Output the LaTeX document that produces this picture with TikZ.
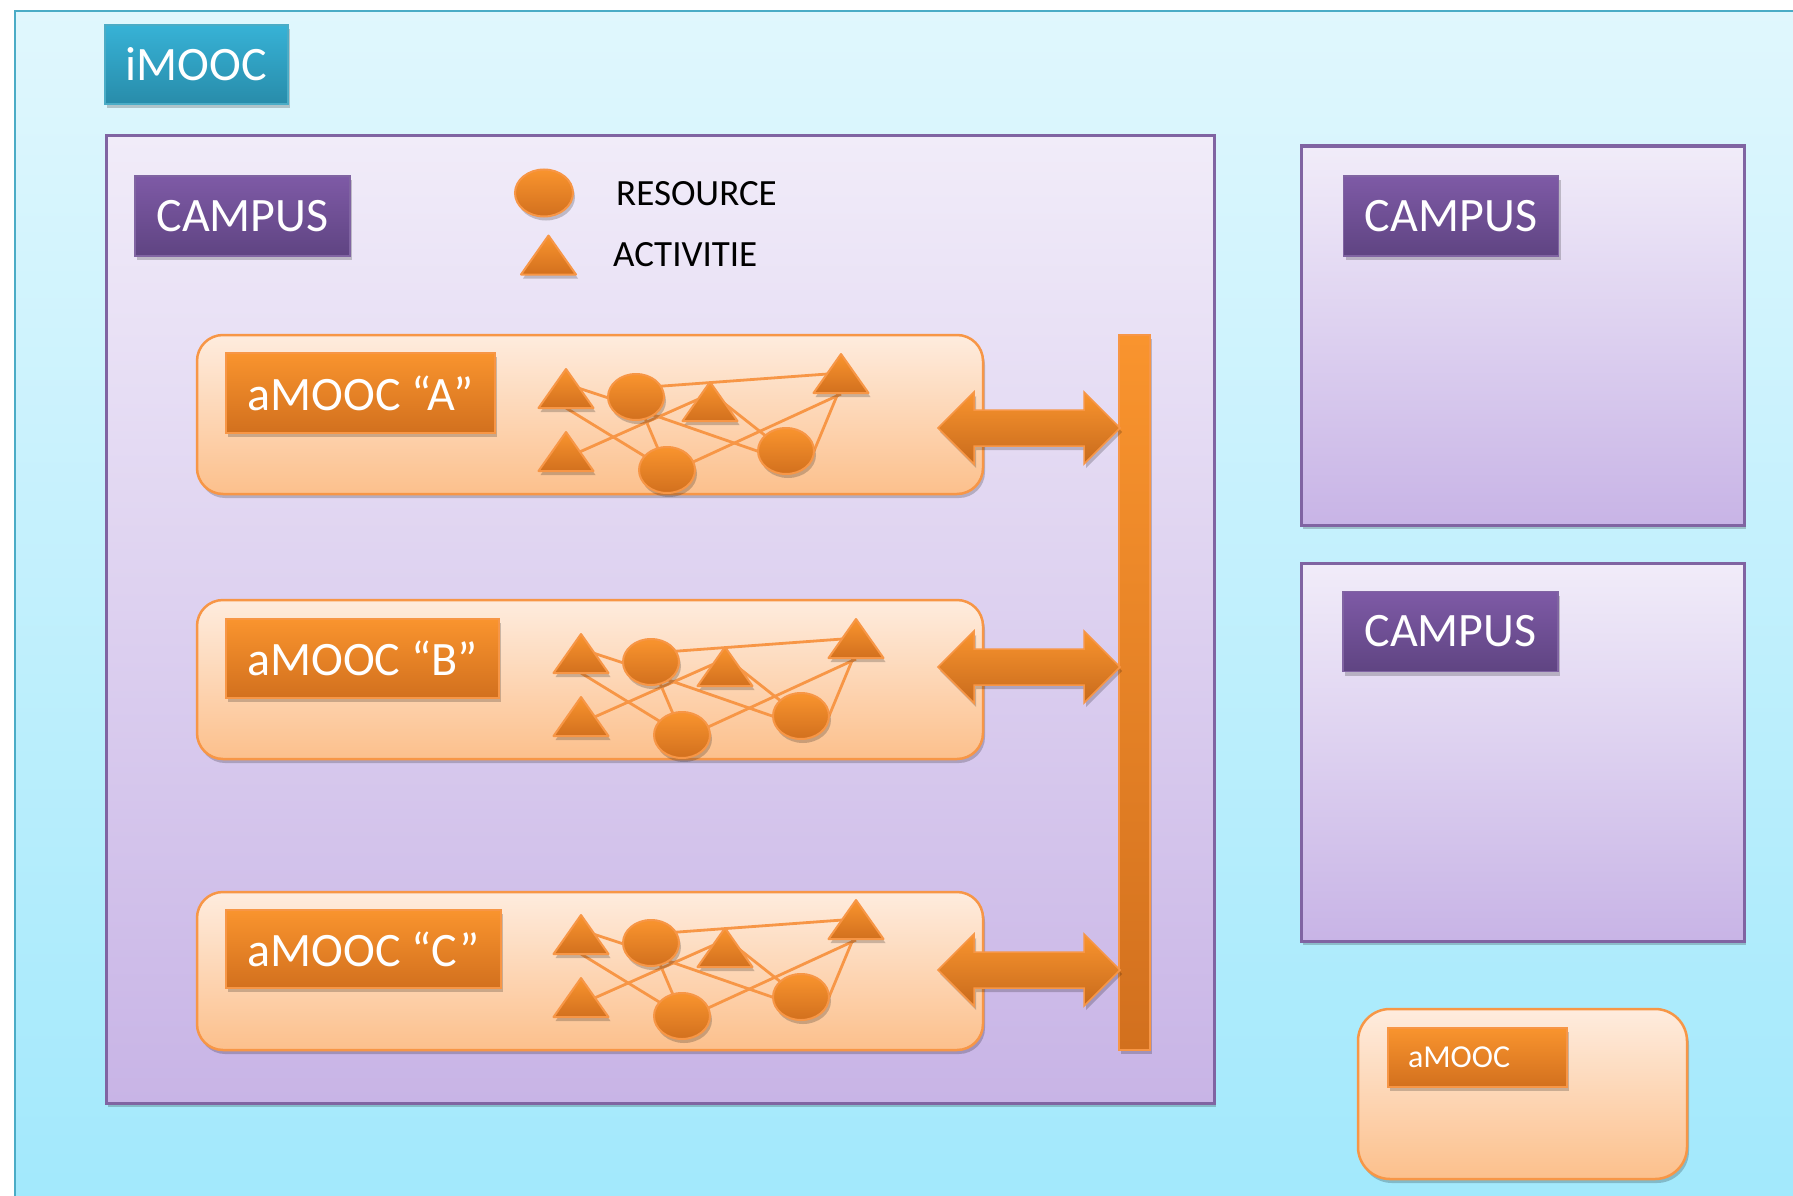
\documentclass[tikz,border=0pt]{standalone}
\usepackage{fontspec}
\setmainfont{Carlito}
\usetikzlibrary{shadows,shapes.geometric}
\definecolor{outtop}{RGB}{224,247,253}
\definecolor{outbot}{RGB}{160,232,252}
\definecolor{tealb}{RGB}{75,172,198}
\definecolor{itop}{RGB}{55,178,214}
\definecolor{ibot}{RGB}{40,140,170}
\definecolor{pborder}{RGB}{128,100,162}
\definecolor{ptop}{RGB}{241,236,249}
\definecolor{pbot}{RGB}{200,180,230}
\definecolor{pltop}{RGB}{126,90,166}
\definecolor{plbot}{RGB}{95,68,130}
\definecolor{oborder}{RGB}{247,150,70}
\definecolor{otop}{RGB}{254,236,222}
\definecolor{obot}{RGB}{252,192,140}
\definecolor{oltop}{RGB}{249,148,46}
\definecolor{olbot}{RGB}{210,112,30}
\newcommand\fbig{\fontsize{48pt}{56pt}\selectfont}
\newcommand\fmid{\fontsize{48pt}{56pt}\selectfont}
\newcommand\fleg{\fontsize{37pt}{44pt}\selectfont}
\newcommand\fsmall{\fontsize{32pt}{38pt}\selectfont}
\tikzset{
  shd/.style={drop shadow={shadow xshift=2pt,shadow yshift=-4pt,opacity=0.2,fill=black}},
  outerbox/.style={draw=tealb,line width=2.5pt,top color=outtop,bottom color=outbot},
  imooclbl/.style={rectangle,draw=tealb,line width=1.5pt,top color=itop,bottom color=ibot,
    text=white,font=\fbig,inner sep=0pt,shd},
  campusbox/.style={rectangle,draw=pborder,line width=3pt,top color=ptop,bottom color=pbot,
    inner sep=0pt,shd},
  campuslbl/.style={rectangle,draw=pborder,line width=1.5pt,top color=pltop,bottom color=plbot,
    text=white,font=\fbig,inner sep=0pt,minimum width=215pt,minimum height=80pt,shd},
  amoocbox/.style={rectangle,rounded corners=26pt,draw=oborder,line width=2.5pt,
    top color=otop,bottom color=obot,inner sep=0pt,shd},
  amooclbl/.style={rectangle,draw=oborder,line width=1.5pt,top color=oltop,bottom color=olbot,
    text=white,font=\fmid,inner sep=0pt,shd},
  barbox/.style={rectangle,draw=oborder,line width=1.5pt,top color=oltop,bottom color=olbot,
    inner sep=0pt,shd},
  barrow/.style={draw=oborder,line width=1.5pt,top color=oltop,bottom color=olbot!95!black,
    line join=miter,shd},
  edge/.style={draw=oborder,line width=2.8pt},
  res/.style={ellipse,draw=oborder,line width=2pt,top color=oltop,bottom color=olbot,
    minimum width=56pt,minimum height=46pt,inner sep=0pt,shd},
  shapefill/.style={draw=oborder,line width=2pt,top color=oltop,bottom color=olbot,
    line join=round,shd},
  tri/.pic={\path[shapefill] (0,-26) -- (27.5,13) -- (-27.5,13) -- cycle;},
  legtext/.style={anchor=west,inner sep=0pt,font=\fleg,text=black}
}
\newcommand\mnet[3]{%
\begin{scope}[shift={(#2,#3)}]
  \coordinate (#1t1) at (566,395);
  \coordinate (#1t2) at (566,458);
  \coordinate (#1t3) at (710,408);
  \coordinate (#1t4) at (841,380);
  \coordinate (#1e1) at (636,397);
  \coordinate (#1e2) at (667,470);
  \coordinate (#1e3) at (786,451);
  \draw[edge] (566,384) -- (636,407);
  \draw[edge] (566,408) -- (#1e2);
  \draw[edge] (636,388) -- (841,373);
  \draw[edge] (#1e1) -- (#1e2);
  \draw[edge] (636,409) -- (786,461);
  \draw[edge] (#1t2) -- (710,394);
  \draw[edge] (710,392) -- (786,452);
  \draw[edge] (667,474) -- (841,394);
  \draw[edge] (814,451) -- (841,386);
  \pic at (#1t1) {tri};
  \pic at (#1t2) {tri};
  \pic at (#1t3) {tri};
  \pic at (#1t4) {tri};
  \node[res] (#1r1) at (#1e1) {};
  \node[res] (#1r2) at (#1e2) {};
  \node[res] (#1r3) at (#1e3) {};
\end{scope}}
\newcommand\dblarrow[1]{%
  \path[barrow] (938,#1) -- ++(36,-36) -- ++(0,18) -- ++(110,0) -- ++(0,-18)
    -- ++(36,36) -- ++(-36,36) -- ++(0,-18) -- ++(-110,0) -- ++(0,18) -- cycle;}
\begin{document}
\begin{tikzpicture}[x=1pt,y=-1pt]
\useasboundingbox (0,0) rectangle (1793,1196);
\begin{scope}
\clip (0,0) rectangle (1793,1196);
\path[outerbox] (15,11) rectangle (1830,1240);
\end{scope}
% iMOOC label
\node[imooclbl,minimum width=183pt,minimum height=79pt] (imooc) at (196.5,64.5) {iMOOC};
% main campus
\node[campusbox,minimum width=1108pt,minimum height=967pt] (campA) at (660,619.5) {};
\node[campuslbl] (campAl) at (242.5,216) {CAMPUS};
% legend
\node[res,minimum width=58pt,minimum height=47pt] (legres) at (544,193) {};
\coordinate (legact) at (548.5,261.5);
\pic at (legact) {tri};
\node[legtext] (legrestxt) at (616,194) {RESOURCE};
\node[legtext] (legacttxt) at (613,255) {ACTIVITIE};
% aMOOC boxes
\node[amoocbox,minimum width=786pt,minimum height=159pt] (amA) at (590,414.5) {};
\node[amoocbox,minimum width=786pt,minimum height=159pt] (amB) at (590,679.5) {};
\node[amoocbox,minimum width=786pt,minimum height=158pt] (amC) at (590,971) {};
\node[amooclbl,minimum width=269pt,minimum height=80pt] (amAl) at (360.5,393) {aMOOC “A”};
\node[amooclbl,minimum width=273pt,minimum height=79pt] (amBl) at (362.5,658.5) {aMOOC “B”};
\node[amooclbl,minimum width=275pt,minimum height=78pt] (amCl) at (363.5,949) {aMOOC “C”};
% networks
\mnet{a}{0}{0}
\mnet{b}{15}{265}
\mnet{c}{15}{546}
% bar and arrows
\node[barbox,minimum width=31pt,minimum height=715pt] (bar) at (1134.5,692.5) {};
\dblarrow{428}
\dblarrow{667}
\dblarrow{970}
% right campuses
\node[campusbox,minimum width=443pt,minimum height=379pt] (campB) at (1522.5,335.5) {};
\node[campuslbl] (campBl) at (1451,216) {CAMPUS};
\node[campusbox,minimum width=443pt,minimum height=378pt] (campC) at (1522.5,752) {};
\node[campuslbl] (campCl) at (1450.5,631.5) {CAMPUS};
% standalone aMOOC
\node[amoocbox,rounded corners=32pt,minimum width=329pt,minimum height=170pt] (amD) at (1522.5,1094) {};
\node[amooclbl,font=\fsmall,minimum width=179pt,minimum height=59pt,text width=139pt,align=left] (amDl) at (1477.5,1057.5) {aMOOC};
\end{tikzpicture}
\end{document}
